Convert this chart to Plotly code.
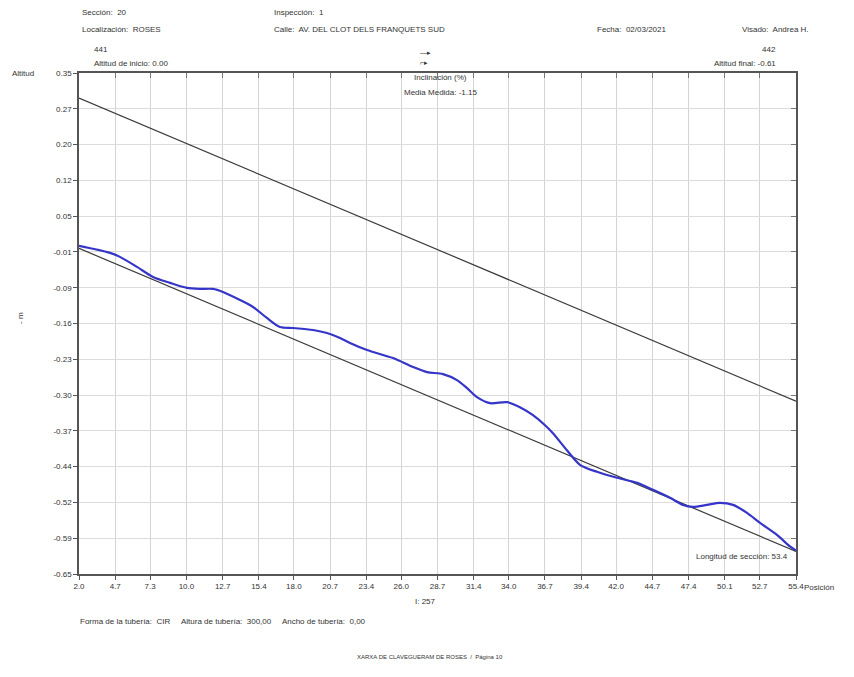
import plotly.graph_objects as go

# ---- data ----
x_ticks = [2.0, 4.7, 7.3, 10.0, 12.7, 15.4, 18.0, 20.7, 23.4, 26.0, 28.7,
           31.4, 34.0, 36.7, 39.4, 42.0, 44.7, 47.4, 50.1, 52.7, 55.4]
y_tick_labels = ["0.35", "0.27", "0.20", "0.12", "0.05", "-0.01", "-0.09", "-0.16",
                 "-0.23", "-0.30", "-0.37", "-0.44", "-0.52", "-0.59", "-0.65"]
y_top, y_bottom = 0.35, -0.65

# pipe invert (lower) and crown (upper) design lines
line_x = [2.0, 55.4]
lower_y = [0.00, -0.605]
upper_y = [0.30, -0.305]

# measured profile
prof_x = [2.0, 4.31, 5.05, 6.32, 7.51, 8.78, 10.04, 11.01, 11.98, 12.72, 13.99,
          14.96, 16.00, 16.97, 17.94, 19.43, 20.47, 21.44, 22.18, 23.45, 25.39,
          26.88, 27.92, 29.11, 30.15, 30.90, 31.64, 32.61, 33.88, 34.84, 35.81,
          36.71, 37.30, 38.34, 39.31, 40.58, 42.07, 43.56, 44.75, 46.02, 46.98,
          47.73, 48.77, 49.74, 50.71, 51.75, 52.72, 53.98, 54.95, 55.4]
prof_y = [0.005, -0.009, -0.017, -0.037, -0.057, -0.069, -0.079, -0.081, -0.081,
          -0.087, -0.103, -0.117, -0.139, -0.157, -0.159, -0.163, -0.169, -0.179,
          -0.189, -0.203, -0.219, -0.237, -0.247, -0.251, -0.263, -0.279, -0.297,
          -0.309, -0.307, -0.317, -0.333, -0.353, -0.369, -0.403, -0.432, -0.446,
          -0.458, -0.468, -0.482, -0.498, -0.512, -0.516, -0.512, -0.508, -0.512,
          -0.528, -0.548, -0.572, -0.595, -0.603]

n = len(y_tick_labels) - 1
y_tick_vals = [y_top - i * (y_top - y_bottom) / n for i in range(n + 1)]

FONT = "Liberation Sans, Arial, sans-serif"
TXT = "#333333"

# page offset of the plot div (body margin) is 8px
OFF = 8
PL, PT, PR, PB = 79, 73, 796, 574   # plot area in page pixels

fig = go.Figure()
fig.add_trace(go.Scatter(x=line_x, y=upper_y, mode="lines",
                         line=dict(color="#3a3a3a", width=1.2), showlegend=False))
fig.add_trace(go.Scatter(x=line_x, y=lower_y, mode="lines",
                         line=dict(color="#3a3a3a", width=1.2), showlegend=False))
fig.add_trace(go.Scatter(x=prof_x, y=prof_y, mode="lines",
                         line=dict(color="#3535c8", width=2.2, shape="spline", smoothing=0.8),
                         showlegend=False))
fig.add_trace(go.Scatter(x=[x_ticks[0]], y=[y_top], xaxis="x2", yaxis="y2",
                         mode="markers", marker=dict(opacity=0), showlegend=False,
                         hoverinfo="skip"))

W, H = 846, 669
fig.update_layout(
    width=W, height=H,
    margin=dict(l=PL - OFF, r=W + OFF - PR, t=PT - OFF, b=H + OFF - PB, pad=0),
    paper_bgcolor="white", plot_bgcolor="white",
    font=dict(family=FONT, size=8, color=TXT),
    xaxis=dict(range=[x_ticks[0], x_ticks[-1]], tickvals=x_ticks,
               ticktext=[f"{v:.1f}" for v in x_ticks],
               showgrid=True, gridcolor="#d4d4d4", gridwidth=1,
               ticks="outside", ticklen=4, tickcolor="#555",
               showline=True, linecolor="#555", linewidth=1.5, mirror=True,
               zeroline=False, tickfont=dict(size=8, color=TXT)),
    yaxis=dict(range=[y_bottom, y_top], tickvals=y_tick_vals, ticktext=y_tick_labels,
               showgrid=True, gridcolor="#dcdcdc", gridwidth=1,
               ticks="outside", ticklen=4, tickcolor="#555",
               showline=True, linecolor="#555", linewidth=1.5, mirror=True,
               zeroline=False, tickfont=dict(size=8, color=TXT)),
    xaxis2=dict(overlaying="x", side="top", matches="x", tickvals=x_ticks,
                ticks="inside", ticklen=5, tickcolor="#777", showticklabels=False,
                showgrid=False, zeroline=False, showline=False),
    yaxis2=dict(overlaying="y", side="right", matches="y", tickvals=y_tick_vals,
                ticks="inside", ticklen=5, tickcolor="#777", showticklabels=False,
                showgrid=False, zeroline=False, showline=False),
)

def px(x, y, text, xanchor="left", size=8, angle=0):
    fig.add_annotation(text=text, x=(x - PL) / (PR - PL), y=(PB - y) / (PB - PT),
                       xref="paper", yref="paper", showarrow=False,
                       xanchor=xanchor, yanchor="middle", textangle=angle,
                       font=dict(family=FONT, size=size, color=TXT))

px(80, 13, "Sección:  20")
px(80, 30, "Localización:  ROSES")
px(272, 13, "Inspección:  1")
px(272, 30, "Calle:  AV. DEL CLOT DELS FRANQUETS SUD")
px(595, 30, "Fecha:  02/03/2021")
px(740, 30, "Visado:  Andrea H.")
px(92, 50, "441")
px(92, 64, "Altitud de inicio: 0.00")
px(778, 49, "442", xanchor="right")
px(778, 64, "Altitud final: -0.61", xanchor="right")
px(418, 52, "—▸", size=7)
px(418, 62, "⌐▸", size=7)
px(440, 77, "Inclinación (%)", xanchor="center")
px(440, 92, "Media Medida: -1.15", xanchor="center")
px(10, 73, "Altitud")
px(20, 318, "- m", angle=-90, xanchor="center")
px(790, 556, "Longitud de sección: 53.4", xanchor="right")
px(802, 587, "Posición")
px(413, 601, "I: 257")
px(78, 621, "Forma de la tubería:  CIR     Altura de tubería:  300,00     Ancho de tubería:  0,00")
px(430, 657, "XARXA DE CLAVEGUERAM DE ROSES  /  Página 10", xanchor="center", size=6)

fig.write_html("out.html")
